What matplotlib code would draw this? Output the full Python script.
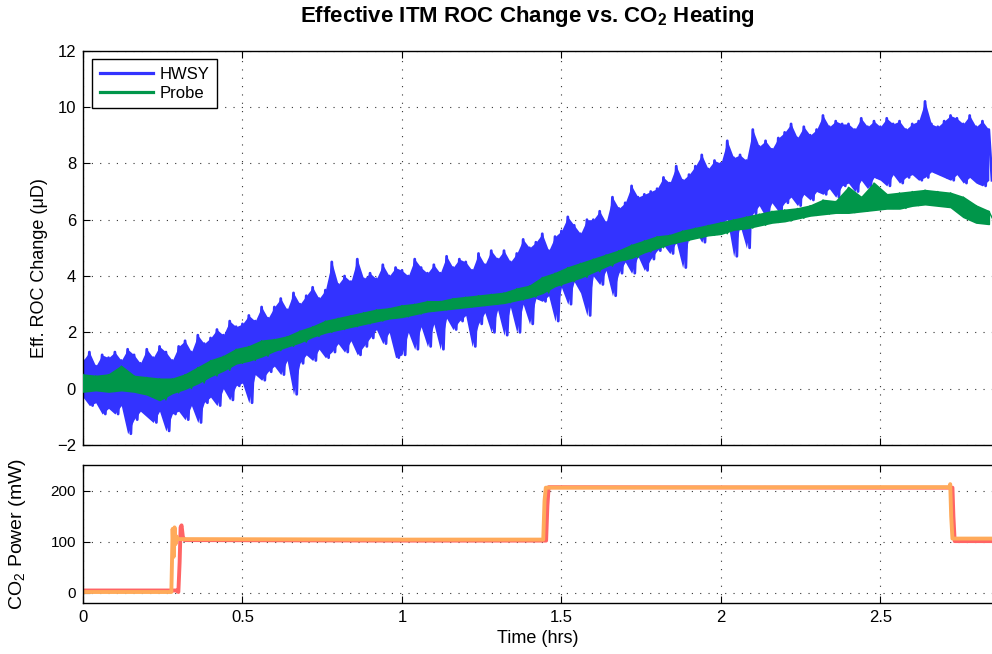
import matplotlib
matplotlib.use('Agg')
import matplotlib.pyplot as plt
import numpy as np

plt.rcParams['font.family'] = ['Liberation Sans', 'DejaVu Sans']
plt.rcParams['mathtext.fontset'] = 'custom'
plt.rcParams['mathtext.rm'] = 'Liberation Sans'
plt.rcParams['mathtext.bf'] = 'Liberation Sans:bold'
plt.rcParams['path.simplify'] = False

# --- data ---
# HWSY effective ROC change, one sample every 0.01 hrs
# (alternating peak / trough of the noisy trace)
hwsy_step = 0.01
hwsy = [
    1.0, -0.3, 1.3, -0.6, 0.8, -0.5, 1.2, -0.9, 1.1, -0.7,
    1.3, -0.9, 1.0, -0.6, 1.4, -1.6, 1.2, -1.1, 0.9, -0.8,
    1.4, -1.0, 1.1, -1.2, 1.5, -0.8, 1.3, -1.5, 1.0, -0.9,
    1.5, -0.8, 1.7, -1.1, 1.3, -0.6, 1.9, -1.2, 1.6, -0.5,
    1.8, -0.3, 2.1, -0.6, 1.9, 0.0, 2.4, -0.4, 2.2, 0.1,
    2.3, 0.2, 2.6, -0.5, 2.4, 0.5, 2.9, 0.3, 2.5, 0.6,
    2.9, 0.8, 3.2, 0.5, 2.8, 1.0, 3.4, -0.2, 3.0, 0.9,
    3.3, 1.2, 3.6, 1.0, 3.2, 1.4, 3.5, 1.1, 4.5, 1.3,
    3.7, 1.6, 4.0, 1.3, 3.8, 1.7, 4.6, 1.2, 3.9, 1.5,
    4.1, 1.8, 3.9, 2.1, 4.4, 1.6, 4.0, 2.0, 4.3, 1.1,
    4.2, 1.2, 4.0, 2.0, 4.6, 1.4, 4.3, 2.2, 4.1, 1.5,
    4.4, 2.3, 4.1, 1.4, 4.7, 2.5, 4.3, 2.1, 4.6, 2.4,
    4.5, 2.6, 4.2, 1.5, 4.8, 2.3, 4.4, 2.7, 4.9, 2.0,
    4.6, 2.8, 4.9, 1.9, 4.5, 2.9, 4.8, 2.0, 5.3, 3.0,
    5.0, 2.3, 5.2, 3.2, 5.5, 3.1, 4.9, 3.3, 5.4, 2.4,
    5.6, 3.6, 6.1, 3.0, 5.8, 3.8, 5.5, 3.4, 6.0, 2.6,
    6.0, 4.0, 6.3, 3.7, 5.9, 4.2, 6.8, 3.3, 6.4, 4.1,
    6.6, 4.5, 7.2, 4.1, 6.8, 4.7, 6.9, 4.2, 7.0, 4.6,
    7.1, 4.9, 7.5, 5.1, 7.3, 4.8, 7.9, 5.2, 7.4, 4.3,
    7.6, 5.4, 7.9, 5.6, 8.3, 5.2, 7.8, 5.7, 8.1, 5.5,
    8.0, 5.9, 8.8, 6.0, 8.2, 4.7, 8.3, 5.8, 8.1, 5.0,
    9.2, 6.2, 8.6, 6.5, 8.8, 6.1, 8.5, 6.6, 8.9, 6.3,
    9.1, 6.6, 9.4, 6.8, 8.9, 6.5, 9.3, 6.9, 9.0, 6.7,
    9.2, 7.0, 9.7, 6.9, 9.3, 7.1, 9.5, 6.8, 9.4, 7.2,
    9.4, 7.3, 9.2, 7.0, 9.6, 7.4, 9.3, 7.1, 9.5, 7.5,
    9.3, 7.4, 9.6, 7.2, 9.4, 7.6, 9.5, 7.3, 9.2, 7.5,
    9.4, 7.6, 9.5, 7.4, 10.2, 7.5, 9.4, 7.7, 9.3, 7.6,
    9.5, 7.5, 9.7, 7.4, 9.6, 7.6, 9.4, 7.3, 9.7, 7.5,
    9.3, 7.3, 9.5, 7.2, 9.2, 7.4,
]

# Probe effective ROC change, one sample every 0.02 hrs
# (alternating peak / trough)
probe_step = 0.02
probe = [
    0.5, -0.1, 0.45, -0.05, 0.5, -0.1, 0.8, -0.05, 0.45, -0.1,
    0.4, -0.2, 0.35, -0.4, 0.35, -0.15, 0.5, 0.0, 0.75, 0.2,
    1.0, 0.45, 1.15, 0.65, 1.4, 0.9, 1.5, 1.0, 1.7, 1.15,
    1.75, 1.35, 1.85, 1.5, 2.05, 1.65, 2.2, 1.85, 2.4, 2.0,
    2.5, 2.1, 2.6, 2.2, 2.7, 2.3, 2.8, 2.4, 2.85, 2.5,
    2.95, 2.55, 3.0, 2.65, 3.1, 2.75, 3.1, 2.8, 3.2, 2.85,
    3.25, 2.9, 3.3, 2.95, 3.35, 3.0, 3.4, 3.05, 3.55, 3.15,
    3.65, 3.25, 3.95, 3.4, 4.1, 3.65, 4.3, 3.8, 4.45, 3.95,
    4.6, 4.15, 4.75, 4.35, 4.9, 4.55, 5.1, 4.65, 5.25, 4.85,
    5.4, 5.0, 5.45, 5.15, 5.6, 5.25, 5.7, 5.35, 5.8, 5.45,
    5.9, 5.5, 6.0, 5.65, 6.1, 5.7, 6.2, 5.8, 6.3, 5.9,
    6.35, 5.95, 6.4, 6.05, 6.5, 6.15, 6.7, 6.2, 6.65, 6.25,
    7.15, 6.25, 6.8, 6.3, 7.3, 6.35, 6.9, 6.4, 6.95, 6.4,
    7.0, 6.5, 7.05, 6.55, 7.0, 6.5, 6.95, 6.45, 6.8, 6.1,
    6.5, 5.9, 6.3, 5.85,
]

# CO2 laser power (mW), two channels
co2_red_time = [0.00, 0.295, 0.299, 0.303, 0.306, 0.309, 0.313, 0.318, 1.00,
                1.452, 1.456, 1.460, 2.50, 2.726, 2.729, 2.733, 2.86]
co2_red = [4, 4, 1, 60, 128, 132, 110, 103, 102,
           102, 170, 207, 206, 206, 150, 101, 101]
co2_orange_time = [0.00, 0.277, 0.279, 0.281, 0.284, 0.287, 0.290, 0.294, 0.298, 1.00,
                   1.443, 1.447, 1.451, 2.50, 2.716, 2.719, 2.722, 2.726, 2.86]
co2_orange = [1, 1, 60, 125, 70, 128, 95, 110, 105, 104,
              104, 180, 206, 207, 207, 213, 150, 106, 106]

hwsy_time = np.arange(len(hwsy)) * hwsy_step
probe_time = np.arange(len(probe)) * probe_step
hwsy = np.array(hwsy)
probe = np.array(probe)

blue = '#3333FF'
green = '#00964A'

W, H = 992, 654
fig = plt.figure(figsize=(W / 100, H / 100), dpi=100)

left = 83 / W
ax1 = fig.add_axes([left, 1 - 445 / H, 1 - left, (445 - 50.7) / H])
ax2 = fig.add_axes([left, 1 - 602.7 / H, 1 - left, (602.7 - 465.3) / H])

# dense noisy traces: solid band between peaks and troughs, plus the trace itself
ax1.fill_between(hwsy_time[0::2], hwsy[0::2], hwsy[1::2], color=blue, lw=0, zorder=2)
ax1.plot(hwsy_time, hwsy, color=blue, lw=2.0, label='HWSY', zorder=2)
ax1.fill_between(probe_time[0::2], probe[0::2], probe[1::2], color=green,
                 edgecolor=green, lw=1.2, zorder=3)
ax1.plot(probe_time, probe, color=green, lw=1.0, label='Probe', zorder=3)

ax2.plot(co2_red_time, co2_red, color='#FF6464', lw=2.8)
ax2.plot(co2_orange_time, co2_orange, color='#FFAA5A', lw=2.8)

ax1.set_xlim(0, 2.85)
ax1.set_ylim(-2, 12)
ax1.set_yticks(np.arange(-2, 13, 2))
ax1.set_xticks([0, 0.5, 1, 1.5, 2, 2.5])
ax1.tick_params(labelbottom=False)

ax2.set_xlim(0, 2.85)
ax2.set_ylim(-20, 250)
ax2.set_yticks([0, 100, 200])
ax2.set_xticks([0, 0.5, 1, 1.5, 2, 2.5])
ax2.set_xticklabels(['0', '0.5', '1', '1.5', '2', '2.5'])

for ax in (ax1, ax2):
    ax.grid(True, linestyle=(0, (1, 6.5)), linewidth=0.8, color='0.2')
    ax.tick_params(direction='in', length=5, width=0.8, top=True, right=False,
                   labelsize=12, pad=5)
    ax.spines['right'].set_visible(False)
    for s in ('left', 'top', 'bottom'):
        ax.spines[s].set_linewidth(1.0)
ax2.tick_params(axis='y', labelsize=11)

ax1.set_ylabel('Eff. ROC Change (μD)', fontsize=13)
ax1.yaxis.set_label_coords(-0.039, 0.45)
ax2.set_ylabel('CO$_2$ Power (mW)', fontsize=14)
ax2.yaxis.set_label_coords(-0.061, 0.5)
ax2.set_xlabel('Time (hrs)', fontsize=13, labelpad=4)

fig.text(527 / W, 1 - 22 / H, r'Effective ITM ROC Change vs. CO$_\mathbf{2}$ Heating',
         ha='center', va='baseline', fontsize=16, fontweight='bold')

leg = ax1.legend(loc='upper left', bbox_to_anchor=(9 / 909, 1 - 8.6 / 394.3),
                 borderaxespad=0, fontsize=12, fancybox=False, framealpha=1,
                 edgecolor='black', handlelength=3.2, handletextpad=0.4,
                 borderpad=0.45, labelspacing=0.25)
leg.set_zorder(5)
leg.get_frame().set_linewidth(1.0)
for line in leg.get_lines():
    line.set_linewidth(2.3)

fig.savefig('out.png', dpi=100)
